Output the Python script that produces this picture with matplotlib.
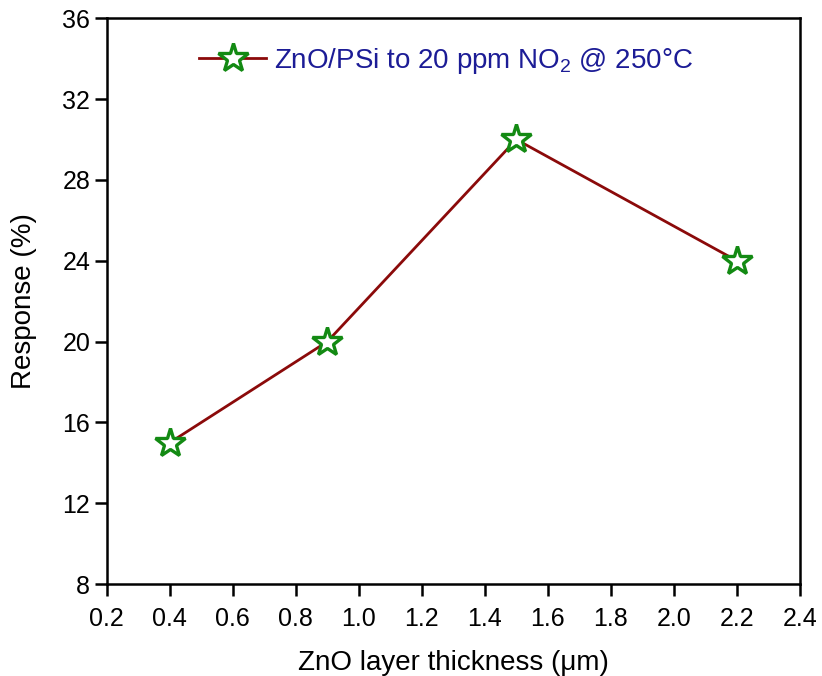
import matplotlib
matplotlib.use('Agg')
import matplotlib.pyplot as plt

matplotlib.rcParams['font.family'] = ['Liberation Sans', 'DejaVu Sans']
matplotlib.rcParams['mathtext.fontset'] = 'custom'
matplotlib.rcParams['mathtext.rm'] = 'Liberation Sans'

# 数据
thickness = [0.4, 0.9, 1.5, 2.2]
response = [15, 20, 30, 24]
x_ticks = [0.2, 0.4, 0.6, 0.8, 1.0, 1.2, 1.4, 1.6, 1.8, 2.0, 2.2, 2.4]
y_ticks = [8, 12, 16, 20, 24, 28, 32, 36]

fig = plt.figure(figsize=(8.22, 6.76), dpi=100)
ax = fig.add_axes([0.130, 0.136, 0.843, 0.837])
ax.plot(thickness, response, color='#8b0a0a', lw=2.0, marker='*', ms=22,
        mfc='white', mec='#138a13', mew=2.4,
        label=r'ZnO/PSi to 20 ppm NO$_2$ @ 250$\degree$C')

ax.set_xlim(0.2, 2.4)
ax.set_ylim(8, 36)
ax.set_xticks(x_ticks)
ax.set_yticks(y_ticks)
ax.set_xticklabels(['%.1f' % v for v in x_ticks])
ax.tick_params(direction='out', length=8.5, width=1.8, labelsize=18, top=False, right=False)
ax.tick_params(axis='x', pad=8)
for s in ax.spines.values():
    s.set_linewidth(1.8)

ax.set_xlabel('ZnO layer thickness (\u03bcm)', fontsize=20, labelpad=14)
ax.set_ylabel('Response (%)', fontsize=20, labelpad=18)

leg = ax.legend(loc='upper center', frameon=False, fontsize=20, handlelength=2.4,
                handletextpad=0.3, bbox_to_anchor=(0.49, 0.995))
for t in leg.get_texts():
    t.set_color('#1c1c96')

fig.savefig('out.png', dpi=100)
